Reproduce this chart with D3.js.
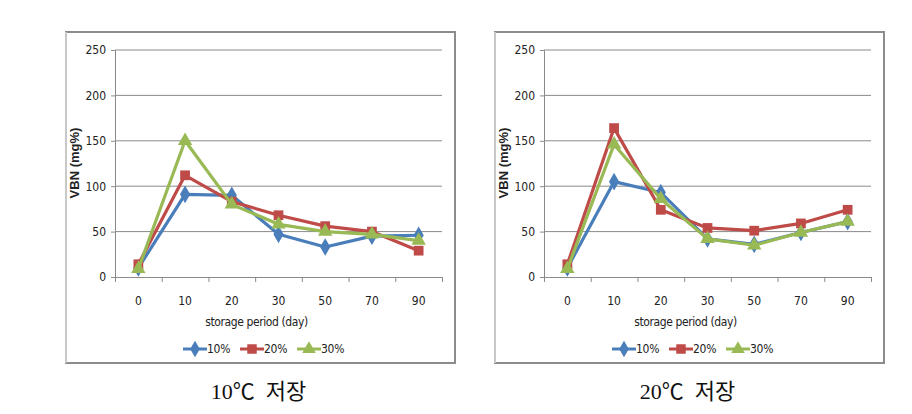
<!DOCTYPE html>
<html>
<head>
<meta charset="utf-8">
<script src="https://cdn.jsdelivr.net/npm/d3@7"></script>
<style>
  body { margin: 0; background: #fff; }
  svg { display: block; }
  .tick text { font-family: "Liberation Sans Narrow", "DejaVu Sans Condensed", sans-serif; font-size: 12px; fill: #222; }
</style>
</head>
<body>
<div id="chart"></div>
<script>
"use strict";
// storage days on the x axis
var categories = ['0', '10', '20', '30', '50', '70', '90'];
var seriesNames = ['10%', '20%', '30%'];
var yTicks = [0, 50, 100, 150, 200, 250];

// 10°C storage
var tenC_10 = [10, 91, 90, 47, 33, 45, 46];
var tenC_20 = [14, 112, 83, 68, 56, 50, 29];
var tenC_30 = [9, 150, 80, 58, 50, 47, 40];

// 20°C storage
var twentyC_10 = [10, 105, 93, 42, 36, 49, 61];
var twentyC_20 = [14, 164, 74, 54, 51, 59, 74];
var twentyC_30 = [9, 146, 86, 42, 35, 49, 61];

var colors = ['#4a7ebb', '#be4b48', '#98b954'];
var shapes = [d3.symbolDiamond, d3.symbolSquare, d3.symbolTriangle];

var width = 912, height = 414;
var svg = d3.select('#chart').append('svg')
    .attr('width', width)
    .attr('height', height);

function drawPanel(left, series, caption) {
    var frame = { x: left, y: 32, w: 389, h: 331 };
    var plotLeft = left + 49, plotRight = left + 376;
    var plotTop = 50, plotBottom = 277;

    var g = svg.append('g');

    // chart box
    g.append('rect')
        .attr('x', frame.x).attr('y', frame.y)
        .attr('width', frame.w).attr('height', frame.h)
        .attr('fill', '#fff')
        .attr('stroke', '#8c8c8c')
        .attr('stroke-width', 2);
    g.append('line')
        .attr('x1', frame.x).attr('x2', frame.x)
        .attr('y1', frame.y).attr('y2', frame.y + frame.h)
        .attr('stroke', '#c8c8c8').attr('stroke-width', 2);

    var x = d3.scaleBand().domain(categories).range([plotLeft, plotRight]).padding(0);
    var y = d3.scaleLinear().domain([0, 250]).range([plotBottom, plotTop]);

    // gridlines
    g.append('g').selectAll('line')
        .data(yTicks.filter(function (d) { return d > 0; }))
        .enter().append('line')
        .attr('x1', plotLeft).attr('x2', plotRight)
        .attr('y1', function (d) { return y(d); })
        .attr('y2', function (d) { return y(d); })
        .attr('stroke', '#8a8a8a').attr('stroke-width', 1);

    // y axis
    var yAxis = g.append('g')
        .attr('transform', 'translate(' + plotLeft + ',0)')
        .call(d3.axisLeft(y).tickValues(yTicks).tickSize(4).tickPadding(5));
    yAxis.selectAll('line, path').attr('stroke', '#8a8a8a');

    // x axis: boundary ticks
    var xb = d3.scaleLinear().domain([0, categories.length]).range([plotLeft, plotRight]);
    var xTickAxis = g.append('g')
        .attr('transform', 'translate(0,' + plotBottom + ')')
        .call(d3.axisBottom(xb).ticks(categories.length).tickFormat('').tickSize(5).tickSizeOuter(5));
    xTickAxis.selectAll('line, path').attr('stroke', '#8a8a8a');

    // x axis labels
    var xAxis = g.append('g')
        .attr('transform', 'translate(0,' + plotBottom + ')')
        .call(d3.axisBottom(x).tickSize(0).tickPadding(19));
    xAxis.select('.domain').remove();

    // axis titles
    g.append('text')
        .attr('x', (plotLeft + plotRight) / 2 - 22)
        .attr('y', 326)
        .attr('text-anchor', 'middle')
        .style('font-family', '"Liberation Sans Narrow", "DejaVu Sans Condensed", sans-serif')
        .style('font-size', '12px')
        .style('letter-spacing', '-0.4px')
        .style('fill', '#222')
        .text('storage period (day)');
    g.append('text')
        .attr('transform', 'translate(' + (left + 13) + ',163) rotate(-90)')
        .attr('text-anchor', 'middle')
        .style('font-family', '"Liberation Sans", Arial, sans-serif')
        .style('font-size', '13px')
        .style('font-weight', 'bold')
        .style('fill', '#222')
        .text('VBN (mg%)');

    // series
    var line = d3.line()
        .x(function (d, i) { return x(categories[i]) + x.bandwidth() / 2; })
        .y(function (d) { return y(d); });

    series.forEach(function (values, s) {
        var sg = g.append('g');
        sg.append('path')
            .datum(values)
            .attr('d', line)
            .attr('fill', 'none')
            .attr('stroke', colors[s])
            .attr('stroke-width', 3.2)
            .attr('stroke-linejoin', 'round');
        sg.selectAll('path.marker')
            .data(values)
            .enter().append('path')
            .attr('class', 'marker')
            .attr('d', d3.symbol().type(shapes[s]).size(s === 1 ? 95 : 90))
            .attr('transform', function (d, i) {
                return 'translate(' + (x(categories[i]) + x.bandwidth() / 2) + ',' + y(d) + ')';
            })
            .attr('fill', colors[s]);
    });

    // legend
    var legendX = left + 117;
    var legend = g.append('g').attr('transform', 'translate(' + legendX + ',349)');
    seriesNames.forEach(function (name, s) {
        var item = legend.append('g').attr('transform', 'translate(' + (s * 57) + ',0)');
        item.append('line')
            .attr('x1', 0).attr('x2', 24)
            .attr('stroke', colors[s]).attr('stroke-width', 3);
        item.append('path')
            .attr('d', d3.symbol().type(shapes[s]).size(s === 1 ? 90 : 80))
            .attr('transform', 'translate(12,0)')
            .attr('fill', colors[s]);
        item.append('text')
            .attr('x', 24)
            .attr('y', 4)
            .style('font-family', '"Liberation Sans Narrow", "DejaVu Sans Condensed", sans-serif')
            .style('font-size', '12px')
            .style('letter-spacing', '-0.3px')
            .style('fill', '#222')
            .text(name);
    });

    // caption under the box
    svg.append('text')
        .attr('x', frame.x + frame.w / 2 - 2)
        .attr('y', 399)
        .attr('text-anchor', 'middle')
        .style('font-family', '"Liberation Serif", "Noto Sans CJK KR", serif')
        .style('font-size', '22px')
        .style('white-space', 'pre')
        .style('fill', '#111')
        .text(caption);
}

drawPanel(66, [tenC_10, tenC_20, tenC_30], '10℃  저장');
drawPanel(495, [twentyC_10, twentyC_20, twentyC_30], '20℃  저장');
</script>
</body>
</html>
